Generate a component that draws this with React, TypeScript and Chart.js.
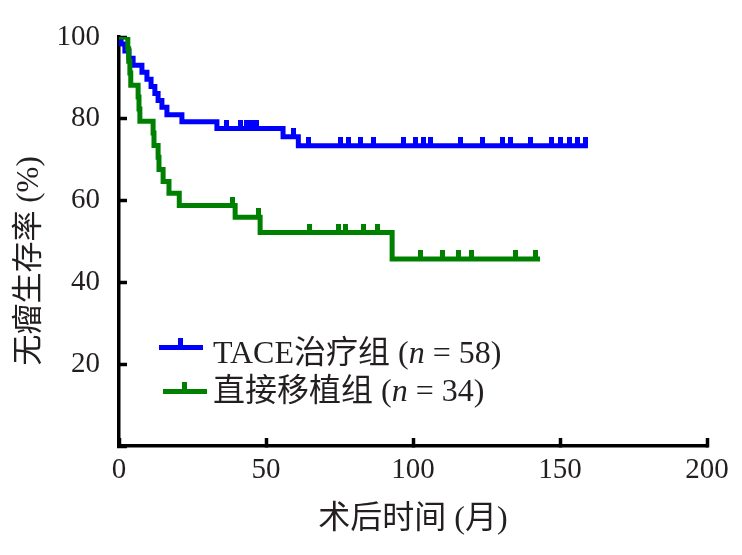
import React, { useEffect, useRef } from "react";
import { Chart, registerables } from "chart.js";

Chart.register(...registerables);

// TACE 治疗组 (n = 58): event times (months) and survival (%) after each step
const taceTimes = [0, 0.7, 2, 3.4, 4.8, 7.8, 9.5, 10.9, 12.2, 13.3, 14.6, 16.3, 21.4, 33.3, 55.8, 61, 159.5];
const taceSurvival = [100, 98.3, 96.6, 94.8, 93.1, 91.4, 89.7, 87.9, 86.2, 84.5, 82.8, 81.0, 79.3, 77.6, 75.6, 73.4, 73.4];
const taceCensorTimes = [36.4, 41.2, 43.2, 45.2, 46.9, 59.5, 64.6, 75.5, 78.2, 82, 86.4, 96.6, 101, 103.7, 106.1, 116, 123.5, 130.6, 133, 139.8, 147, 150.3, 153.4, 156.1, 158.8];

// 直接移植组 (n = 34)
const transTimes = [0, 3, 3.3, 3.7, 4, 6.5, 6.8, 7.1, 11.6, 11.9, 13.3, 13.6, 15, 17, 20.5, 39.5, 48, 92.9, 143.2];
const transSurvival = [100, 97.1, 94.1, 91.2, 88.2, 85.3, 82.4, 79.4, 76.5, 73.5, 70.6, 67.6, 64.7, 61.8, 58.8, 55.9, 52.2, 45.7, 45.7];
const transCensorTimes = [38.5, 47.6, 64.8, 74.5, 77, 83.3, 88, 102.4, 109.9, 115.6, 120, 134.7, 141.8];

const xTicks = [0, 50, 100, 150, 200];
const yTicks = [0, 20, 40, 60, 80, 100];

const seriesNames = ["TACE治疗组", "直接移植组"];
const seriesN = [58, 34];
const seriesColors = ["#0000FF", "#008000"];

const xTitle = "术后时间 (月)";
const yTitle = "无瘤生存率 (%)";

const FAMILY = '"Liberation Serif", "Noto Sans CJK SC", serif';
const TEXT_COLOR = "#231f20";

function stepPoints(times: number[], surv: number[]) {
  return times.map((t, i) => ({ x: t, y: surv[i] }));
}

function censorPoints(censors: number[], times: number[], surv: number[]) {
  return censors.map((c) => {
    let y = surv[0];
    for (let i = 0; i < times.length; i++) {
      if (times[i] <= c) y = surv[i];
    }
    return { x: c, y };
  });
}

function makeCensorMark(color: string) {
  const c = document.createElement("canvas");
  c.width = 5;
  c.height = 18;
  const ctx = c.getContext("2d")!;
  ctx.fillStyle = color;
  ctx.fillRect(0, 0, 5, 9);
  return c;
}

export default function App() {
  const ref = useRef<HTMLCanvasElement | null>(null);

  useEffect(() => {
    if (!ref.current) return;
    const blueMark = makeCensorMark(seriesColors[0]);
    const greenMark = makeCensorMark(seriesColors[1]);
    const lineBase = {
      borderWidth: 5,
      stepped: "before" as const,
      pointRadius: 0,
      fill: false,
      borderCapStyle: "butt" as const,
      borderJoinStyle: "miter" as const,
    };
    const chart = new Chart(ref.current, {
      type: "line",
      data: {
        datasets: [
          {
            ...lineBase,
            label: seriesNames[1],
            data: stepPoints(transTimes, transSurvival),
            borderColor: seriesColors[1],
            backgroundColor: seriesColors[1],
          },
          {
            label: seriesNames[1] + " censored",
            data: censorPoints(transCensorTimes, transTimes, transSurvival),
            showLine: false,
            pointStyle: greenMark as any,
            pointRadius: 3,
            borderWidth: 0,
            clip: false as any,
          },
          {
            ...lineBase,
            label: seriesNames[0],
            data: stepPoints(taceTimes, taceSurvival),
            borderColor: seriesColors[0],
            backgroundColor: seriesColors[0],
          },
          {
            label: seriesNames[0] + " censored",
            data: censorPoints(taceCensorTimes, taceTimes, taceSurvival),
            showLine: false,
            pointStyle: blueMark as any,
            pointRadius: 3,
            borderWidth: 0,
            clip: false as any,
          },
        ],
      },
      options: {
        responsive: false,
        animation: false,
        layout: { padding: { left: 0, right: 35, top: 37, bottom: 0 } },
        plugins: {
          legend: { display: false },
          tooltip: { enabled: false },
        },
        scales: {
          x: {
            type: "linear",
            min: xTicks[0],
            max: xTicks[xTicks.length - 1],
            afterBuildTicks: (scale: any) => {
              scale.ticks = xTicks.map((v) => ({ value: v }));
            },
            afterFit: (scale: any) => {
              scale.height = 109;
              scale.paddingLeft = 0;
              scale.paddingRight = 0;
            },
            ticks: {
              color: TEXT_COLOR,
              font: { family: FAMILY, size: 29 },
              padding: 15,
              maxRotation: 0,
            },
            grid: {
              drawOnChartArea: false,
              drawTicks: true,
              tickLength: -8,
              tickWidth: 3.5,
              tickColor: "#000",
            },
            border: { display: true, color: "#000", width: 3.5 },
            title: {
              display: true,
              text: xTitle,
              color: TEXT_COLOR,
              font: { family: FAMILY, size: 32 },
              padding: { top: 0, bottom: 16 },
            },
          },
          y: {
            type: "linear",
            min: yTicks[0],
            max: yTicks[yTicks.length - 1],
            afterBuildTicks: (scale: any) => {
              scale.ticks = yTicks.map((v) => ({ value: v }));
            },
            afterFit: (scale: any) => {
              scale.width = 119;
              scale.paddingTop = 0;
              scale.paddingBottom = 0;
            },
            ticks: {
              color: TEXT_COLOR,
              font: { family: FAMILY, size: 29 },
              padding: 27,
              callback: (v: any) => (Number(v) === 0 ? "" : String(v)),
            },
            grid: {
              drawOnChartArea: false,
              drawTicks: true,
              tickLength: -8,
              tickWidth: 3.5,
              tickColor: "#000",
            },
            border: { display: true, color: "#000", width: 3.5 },
            title: {
              display: true,
              text: yTitle + "     ",
              color: TEXT_COLOR,
              font: { family: FAMILY, size: 31 },
              padding: { top: 11, bottom: 0 },
            },
          },
        },
      },
    });
    return () => chart.destroy();
  }, []);

  const legendRow = (i: number, top: number, iconLeft: number, iconTop: number) => (
    <div key={i} style={{ position: "absolute", left: 0, top, height: 32, width: 742 }}>
      <div style={{ position: "absolute", left: iconLeft, top: iconTop, width: 44, height: 5, background: seriesColors[i] }} />
      <div style={{ position: "absolute", left: iconLeft + 19, top: iconTop - 7, width: 5, height: 7, background: seriesColors[i] }} />
      <div
        style={{
          position: "absolute",
          left: 213,
          top: 0,
          lineHeight: "32px",
          fontSize: 32,
          fontFamily: FAMILY,
          color: TEXT_COLOR,
          whiteSpace: "nowrap",
        }}
      >
        {seriesNames[i]} (<i>n</i> = {seriesN[i]})
      </div>
    </div>
  );

  return (
    <div style={{ position: "absolute", left: 0, top: 0, width: 742, height: 555, background: "#fff" }}>
      <canvas ref={ref} width={742} height={555} style={{ position: "absolute", left: 0, top: 0 }} />
      {legendRow(0, 336, 159, 9)}
      {legendRow(1, 374, 163, 15)}
    </div>
  );
}
